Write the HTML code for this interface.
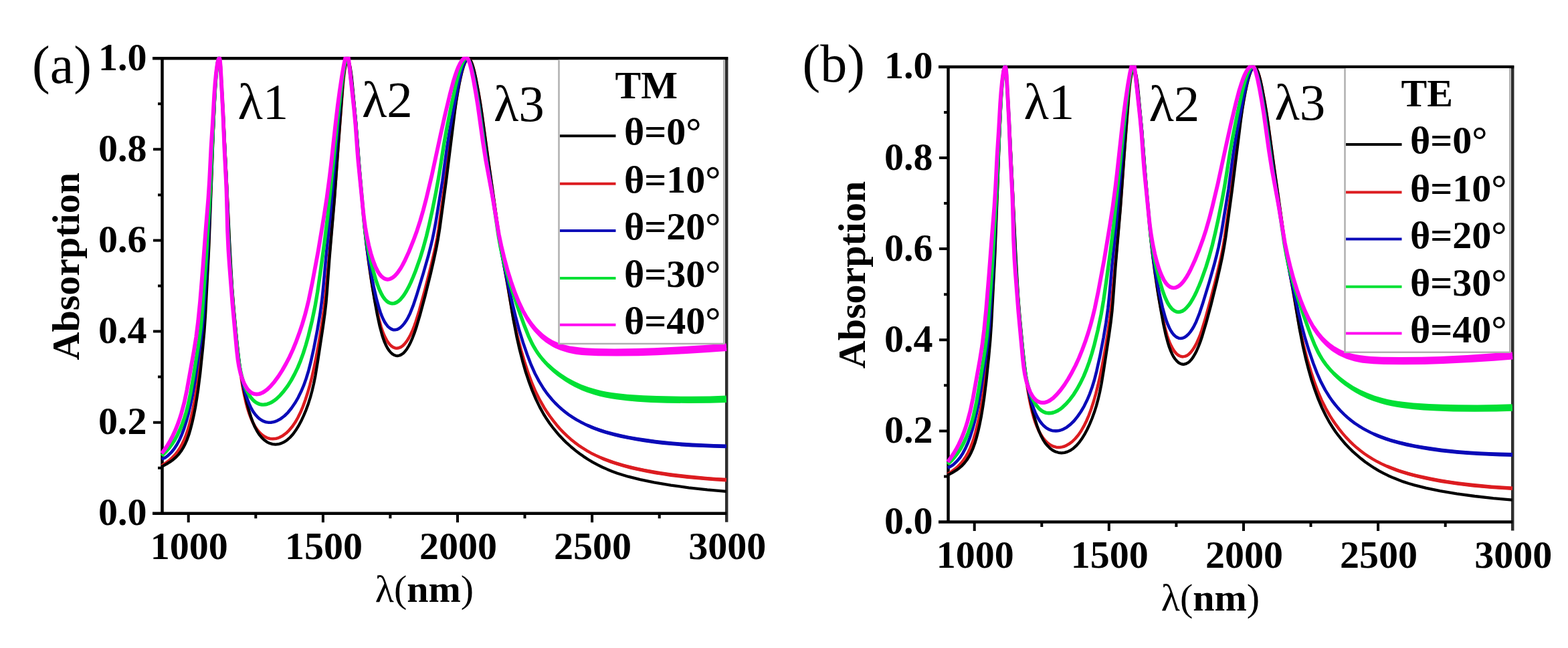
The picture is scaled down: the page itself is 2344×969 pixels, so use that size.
<!DOCTYPE html>
<html><head><meta charset="utf-8"><style>
html,body{margin:0;padding:0;background:#fff;}
svg{display:block}
.b{font-family:"Liberation Serif",serif;font-weight:bold;font-size:58px;fill:#000}
.r{font-family:"Liberation Serif",serif;font-size:77px;fill:#000}
.p{font-family:"Liberation Serif",serif;font-size:80px;fill:#000}
</style></head><body>
<svg width="2344" height="969" viewBox="0 0 2344 969">
<rect width="2344" height="969" fill="#fff"/>
<path d="M1086.2,85.2 V780.8" fill="none" stroke="#2e2e2e" stroke-width="4.5"/>
<path d="M228.0,87.2 H1088.2 M242.5,87.2 V767.8 M228.0,767.8 H1086.2" fill="none" stroke="#000" stroke-width="4.5"/>
<path d="M236.0,699.7 H242.5 M229.0,631.7 H242.5 M236.0,563.6 H242.5 M229.0,495.6 H242.5 M236.0,427.5 H242.5 M229.0,359.4 H242.5 M236.0,291.4 H242.5 M229.0,223.3 H242.5 M236.0,155.3 H242.5 M281.7,767.8 V781.3 M382.3,767.8 V775.3 M482.9,767.8 V781.3 M583.4,767.8 V775.3 M684.0,767.8 V781.3 M784.5,767.8 V775.3 M885.1,767.8 V781.3 M985.7,767.8 V775.3" stroke="#000" stroke-width="4"/>
<clipPath id="clip241"><rect x="239.5" y="84.7" width="848.7" height="685.1"/></clipPath>
<g clip-path="url(#clip241)">
<path d="M241.5,696.5 L247.4,692.7 L252.6,688.7 L257.5,684.4 L261.6,680.1 L265.3,675.4 L268.9,670.0 L272.1,664.3 L275.1,658.0 L277.9,651.0 L280.7,643.0 L283.3,633.9 L285.7,624.2 L288.2,613.0 L290.5,601.2 L292.7,588.4 L294.7,575.1 L297.8,550.8 L302.5,510.1 L304.4,489.7 L306.0,468.2 L310.5,393.8 L311.7,371.4 L313.6,323.9 L316.0,269.4 L318.5,201.5 L321.3,140.6 L322.6,120.1 L324.0,103.6 L325.3,92.7 L325.9,89.8 L326.6,87.9 L326.9,87.5 L327.4,87.7 L327.8,88.6 L328.3,91.1 L329.0,95.5 L330.1,109.0 L331.6,131.9 L334.0,174.9 L338.5,266.3 L342.7,361.2 L344.6,397.1 L346.7,429.5 L349.3,461.9 L353.7,508.7 L356.5,535.1 L359.1,555.9 L361.1,568.7 L363.2,581.0 L365.4,591.8 L367.6,601.6 L369.9,610.3 L372.3,617.9 L375.0,625.0 L377.8,631.4 L380.9,637.1 L384.2,642.2 L387.7,646.5 L391.3,649.9 L395.4,652.8 L399.5,654.8 L403.8,656.0 L407.8,656.3 L410.3,656.1 L412.8,655.7 L415.2,655.1 L418.0,654.0 L422.8,651.4 L427.7,647.8 L432.3,643.3 L436.8,638.0 L441.1,631.8 L445.3,624.5 L449.1,616.8 L452.8,608.1 L456.4,598.3 L459.8,587.8 L463.1,576.3 L466.3,563.7 L469.4,550.0 L472.5,534.8 L477.0,510.3 L481.0,485.6 L484.1,463.8 L486.6,441.4 L492.6,378.2 L499.7,298.0 L501.8,271.1 L505.5,219.2 L512.5,129.5 L513.9,115.6 L515.4,104.1 L516.9,96.2 L517.7,93.3 L518.4,91.4 L519.0,90.4 L519.7,90.0 L520.4,90.4 L521.0,91.3 L521.7,93.3 L523.3,101.1 L525.0,114.0 L529.8,160.3 L531.8,181.7 L536.2,239.5 L543.4,324.7 L545.0,342.2 L547.4,363.5 L550.6,388.3 L554.4,414.0 L557.8,435.2 L562.0,457.3 L566.0,475.4 L569.7,488.9 L571.6,494.6 L573.6,499.7 L575.9,504.7 L578.3,509.1 L580.5,512.5 L583.1,515.6 L585.3,517.6 L587.9,519.3 L590.7,520.4 L593.3,520.7 L596.3,520.2 L599.1,519.1 L602.0,517.1 L605.2,513.9 L608.3,509.9 L611.2,505.3 L614.0,500.0 L616.9,493.6 L619.3,487.6 L621.6,481.0 L626.6,464.8 L634.8,435.0 L643.1,402.6 L647.3,385.0 L650.7,369.9 L653.4,356.1 L655.6,342.8 L665.4,272.0 L671.6,223.3 L678.2,174.8 L681.3,154.0 L684.3,136.3 L686.4,125.0 L688.7,114.7 L690.8,106.0 L692.8,99.3 L694.8,94.1 L696.6,90.6 L697.5,89.3 L698.6,88.3 L699.4,87.8 L700.4,87.6 L701.3,87.9 L702.1,88.6 L703.8,91.0 L705.6,95.2 L707.3,100.4 L709.2,107.6 L711.1,116.4 L715.7,140.5 L718.3,156.3 L720.7,172.6 L730.0,240.0 L747.1,359.8 L750.7,381.5 L759.1,428.2 L765.1,463.2 L769.2,484.3 L773.7,503.3 L779.0,523.6 L784.8,543.3 L790.3,559.9 L795.4,573.5 L800.7,585.8 L806.8,597.9 L813.2,609.2 L817.5,615.9 L822.1,622.5 L826.9,628.9 L831.9,635.2 L837.1,641.2 L842.3,646.6 L847.7,651.9 L853.3,656.9 L859.1,661.6 L864.7,665.8 L870.5,669.7 L876.9,673.7 L883.4,677.4 L890.1,680.8 L896.9,683.9 L904.3,687.0 L912.3,690.0 L920.3,692.7 L929.0,695.3 L938.1,697.8 L947.8,700.2 L958.6,702.5 L981.6,706.9 L1004.4,710.3 L1029.2,713.2 L1057.6,715.7 L1086.0,717.6" fill="none" stroke="#dc1c20" stroke-width="4.5" stroke-linejoin="round"/>
<path d="M897.4,686.6 L901.1,688.4 L912.4,692.7 L920.0,695.3 L931.6,698.8 L943.3,701.9 L955.1,704.6 L966.9,707.0 L978.7,709.2 L990.6,711.1 L1002.5,712.9 L1026.4,715.7 L1054.4,718.3 L1070.4,719.4 L1085.9,720.4 L1086.2,714.8 L1070.7,713.9 L1054.8,712.7 L1027.0,710.1 L1011.2,708.3 L999.3,706.8 L987.5,705.0 L975.7,703.0 L964.0,700.9 L952.3,698.4 L940.7,695.7 L933.0,693.7 L925.4,691.6 L917.8,689.2 L910.4,686.6 L899.2,682.4Z" fill="#dc1c20"/>
<path d="M241.5,697.8 L248.6,694.1 L254.2,690.7 L259.0,687.2 L263.2,683.6 L266.9,679.6 L270.6,674.8 L273.8,669.7 L276.8,664.0 L279.6,657.6 L282.3,650.1 L284.7,641.9 L287.2,632.3 L289.6,621.5 L292.0,609.3 L294.2,596.0 L296.2,582.6 L299.3,557.8 L303.1,521.0 L305.4,495.6 L307.1,470.7 L312.3,369.8 L318.9,195.9 L321.2,144.0 L322.5,121.0 L323.8,103.6 L325.2,92.1 L325.8,89.2 L326.3,87.8 L326.8,87.8 L327.1,88.2 L327.7,90.1 L328.4,94.0 L329.0,99.5 L330.4,115.9 L332.2,142.9 L334.2,178.8 L338.5,263.7 L343.0,359.6 L345.5,405.0 L347.2,432.5 L349.7,462.9 L354.1,509.2 L356.9,534.5 L359.3,553.4 L361.3,565.7 L363.7,578.5 L366.4,591.2 L369.4,603.8 L372.3,614.4 L375.1,623.5 L378.0,631.5 L380.9,638.3 L384.2,644.6 L387.4,649.6 L390.9,653.9 L394.8,657.8 L398.9,660.8 L402.9,662.8 L407.3,664.1 L411.8,664.6 L416.3,664.2 L420.6,662.9 L425.1,660.8 L429.6,657.7 L433.7,654.0 L438.0,649.2 L442.1,643.6 L446.1,637.2 L450.1,629.8 L453.9,621.6 L457.6,612.8 L461.0,603.4 L464.0,593.9 L466.6,584.2 L469.1,573.5 L471.4,562.2 L474.9,541.0 L482.8,489.1 L485.5,469.7 L487.5,452.3 L488.8,436.9 L492.6,385.0 L500.0,297.8 L504.9,228.5 L512.2,129.3 L513.4,116.3 L514.8,105.9 L516.2,98.4 L517.0,95.5 L517.7,93.5 L518.7,92.0 L519.6,91.6 L520.5,91.9 L521.0,92.4 L522.0,94.4 L522.9,97.4 L523.8,101.8 L525.6,114.2 L527.2,130.2 L532.3,184.4 L537.1,245.7 L543.6,324.5 L545.5,345.4 L548.2,368.7 L551.9,397.0 L555.9,424.2 L559.9,448.3 L564.1,471.4 L567.7,488.0 L571.2,501.0 L572.9,506.3 L574.8,511.4 L577.1,516.5 L579.2,520.5 L581.4,523.8 L584.0,527.0 L586.6,529.4 L589.3,531.0 L591.7,531.8 L594.3,532.1 L597.3,531.5 L600.0,530.2 L602.9,528.2 L605.7,525.3 L608.4,521.7 L611.2,517.0 L613.9,511.7 L616.7,505.3 L619.4,498.3 L622.1,490.3 L628.2,469.8 L635.4,442.9 L643.7,409.4 L648.3,389.4 L652.0,372.3 L654.8,357.5 L657.2,342.7 L666.7,272.8 L680.1,165.1 L682.1,150.8 L684.4,137.0 L686.5,125.6 L688.6,115.4 L690.7,106.6 L692.7,99.9 L694.5,94.7 L696.5,90.6 L698.3,88.3 L699.2,87.7 L700.2,87.5 L701.1,87.8 L701.9,88.4 L703.7,90.9 L705.5,95.0 L707.2,100.2 L709.1,107.4 L711.1,116.2 L715.6,140.3 L718.2,155.6 L720.6,171.9 L730.3,242.7 L747.0,359.6 L750.9,382.7 L759.8,431.4 L767.3,476.8 L772.6,504.3 L776.7,522.4 L781.0,539.3 L785.5,555.2 L790.4,569.9 L795.6,584.0 L801.1,596.9 L806.8,608.6 L812.8,619.5 L817.1,626.3 L821.6,633.0 L826.1,639.0 L831.1,645.2 L836.3,651.3 L841.8,657.1 L847.5,662.7 L853.5,668.0 L859.6,673.1 L865.9,678.0 L872.4,682.6 L879.1,687.0 L886.0,691.1 L893.0,694.9 L900.2,698.5 L908.0,701.9 L915.4,704.9 L922.9,707.7 L931.0,710.3 L939.2,712.7 L957.1,717.2 L977.7,721.4 L1002.8,725.6 L1029.6,729.3 L1057.4,732.4 L1085.8,734.9" fill="none" stroke="#000000" stroke-width="4.3" stroke-linejoin="round"/>
<path d="M241.6,686.7 L243.9,685.8 L246.2,684.7 L248.8,683.1 L251.1,681.2 L255.8,676.7 L260.3,671.3 L264.4,665.0 L268.4,657.5 L272.0,649.3 L275.3,640.4 L278.6,629.9 L281.7,618.4 L284.7,605.7 L287.6,592.1 L291.8,567.5 L299.4,516.0 L302.1,494.7 L304.1,473.2 L310.1,380.4 L315.3,273.0 L317.7,216.6 L320.0,165.6 L322.0,129.7 L323.3,111.7 L324.8,97.8 L326.1,89.4 L326.7,87.5 L327.4,86.6 L328.0,87.5 L328.5,90.0 L329.6,100.9 L333.0,158.3 L338.8,277.2 L341.7,353.1 L344.1,395.5 L346.5,429.9 L348.6,456.9 L351.4,486.2 L355.4,525.5 L358.0,545.3 L360.9,562.6 L364.5,579.2 L366.5,586.5 L368.5,593.2 L370.5,598.9 L372.7,604.4 L374.8,609.0 L377.2,613.4 L379.6,617.2 L382.4,620.8 L385.1,623.8 L388.1,626.4 L390.6,628.1 L392.8,629.4 L395.6,630.5 L398.0,631.2 L400.5,631.6 L403.5,631.7 L406.0,631.6 L408.9,631.0 L411.7,630.2 L414.5,629.1 L419.7,626.2 L425.2,622.0 L430.5,616.8 L435.8,610.2 L440.9,602.8 L445.7,594.6 L450.1,585.6 L454.0,576.4 L457.7,566.0 L461.1,555.0 L464.3,542.4 L469.3,519.9 L474.6,492.4 L478.4,469.7 L481.3,448.4 L483.0,432.5 L487.2,386.2 L493.9,320.5 L505.2,188.5 L509.9,139.2 L512.1,119.4 L514.1,105.0 L516.0,95.2 L517.0,91.9 L518.0,89.6 L518.9,88.7 L519.2,88.8 L519.8,89.5 L520.7,91.7 L521.6,95.1 L523.5,106.4 L525.8,124.8 L529.7,159.6 L531.9,182.0 L536.4,241.3 L545.0,340.4 L546.8,356.3 L548.9,372.7 L551.4,389.5 L554.3,406.3 L558.5,427.9 L562.8,446.9 L566.8,461.3 L568.8,467.5 L570.8,472.6 L573.0,477.6 L575.1,481.6 L577.3,484.9 L579.8,488.1 L582.4,490.4 L584.9,492.0 L587.7,493.1 L590.2,493.3 L593.2,492.8 L595.9,491.6 L598.8,489.6 L601.7,486.9 L604.6,483.4 L607.4,479.3 L610.1,474.6 L613.0,468.7 L617.6,457.2 L622.5,442.6 L632.7,409.2 L640.3,382.3 L643.7,369.2 L646.5,357.5 L648.9,345.8 L651.3,333.0 L661.4,270.3 L668.2,220.2 L671.2,200.9 L675.1,178.8 L684.5,130.2 L688.6,111.6 L690.5,104.4 L692.3,98.7 L694.2,94.1 L696.1,90.6 L697.7,88.9 L698.6,88.4 L699.4,88.3 L700.2,88.7 L700.9,89.4 L702.2,91.4 L703.6,94.6 L705.1,99.4 L708.3,112.0 L711.8,130.1 L716.8,160.2 L726.7,230.5 L737.2,296.2 L744.3,345.7 L746.6,360.5 L749.6,377.7 L753.5,397.3 L758.8,421.8 L765.2,450.6 L770.6,472.9 L775.8,492.3 L781.8,511.9 L788.1,530.3 L793.8,545.2 L799.7,558.5 L806.0,570.4 L812.6,581.1 L816.6,586.8 L820.9,592.3 L825.4,597.7 L829.8,602.5 L834.8,607.4 L839.6,611.8 L844.6,615.9 L850.2,620.1 L856.0,624.0 L862.0,627.7 L868.1,631.1 L874.4,634.3 L880.7,637.2 L887.7,640.1 L894.7,642.7 L902.3,645.2 L910.4,647.6 L919.1,649.9 L937.6,654.0 L959.8,657.9 L983.6,661.1 L1005.4,663.4 L1029.4,665.1 L1056.8,666.5 L1085.8,667.3" fill="none" stroke="#0a0ab8" stroke-width="4.6" stroke-linejoin="round"/>
<path d="M877.5,638.3 L881.1,640.1 L884.9,641.7 L896.2,646.0 L903.9,648.5 L915.5,651.8 L927.3,654.7 L939.1,657.1 L950.9,659.3 L962.8,661.3 L978.7,663.5 L990.7,664.9 L1002.7,666.1 L1018.7,667.4 L1034.7,668.4 L1050.7,669.1 L1066.7,669.7 L1085.8,670.2 L1085.9,664.4 L1066.9,663.9 L1051.0,663.3 L1035.0,662.6 L1019.1,661.6 L1003.2,660.3 L991.3,659.1 L979.5,657.7 L967.6,656.1 L951.9,653.7 L940.1,651.7 L928.5,649.3 L916.9,646.6 L905.4,643.5 L897.9,641.1 L890.4,638.4 L879.4,634.1Z" fill="#0a0ab8"/>
<path d="M241.7,681.6 L247.1,676.4 L252.1,670.8 L256.9,664.4 L261.3,657.7 L265.4,650.2 L269.0,642.5 L272.4,634.2 L275.7,624.8 L278.2,616.7 L280.5,608.0 L282.6,598.7 L284.7,588.5 L288.7,565.8 L297.6,509.6 L300.2,489.7 L302.3,467.3 L308.5,381.0 L314.3,282.2 L317.7,206.8 L320.5,150.8 L321.9,127.4 L323.4,109.4 L324.9,96.0 L325.6,91.6 L326.4,88.1 L327.2,86.3 L327.7,86.2 L328.2,87.6 L328.7,90.6 L329.7,102.0 L333.3,166.4 L335.8,223.9 L338.5,276.8 L340.8,345.8 L342.5,379.2 L345.1,416.6 L348.0,453.0 L350.1,476.4 L354.7,521.7 L356.6,538.1 L358.7,550.9 L361.5,563.1 L364.7,573.7 L366.4,578.4 L368.4,583.1 L370.4,587.2 L372.7,591.1 L375.0,594.4 L377.3,597.1 L379.8,599.6 L382.2,601.5 L384.3,602.8 L386.6,603.9 L389.0,604.6 L391.5,605.0 L394.0,605.1 L396.9,604.8 L399.4,604.3 L402.2,603.3 L404.9,602.1 L407.5,600.6 L410.4,598.7 L413.1,596.6 L418.9,591.1 L424.4,584.7 L430.1,577.1 L435.4,568.6 L440.4,559.4 L445.0,549.9 L449.2,539.7 L453.3,528.4 L457.2,516.0 L461.0,502.5 L466.4,480.1 L471.1,457.6 L474.7,436.4 L479.0,406.7 L485.4,359.6 L489.6,325.4 L498.4,241.4 L504.5,179.7 L509.7,134.9 L512.5,113.6 L514.9,98.8 L516.0,93.5 L517.2,89.1 L518.2,86.3 L518.7,85.6 L519.0,85.5 L519.7,87.2 L520.6,90.6 L522.4,101.9 L525.1,123.2 L529.5,162.5 L532.1,190.4 L535.9,240.7 L540.9,293.0 L543.8,326.9 L545.5,342.3 L547.7,357.2 L550.6,373.4 L554.3,390.5 L558.5,407.0 L562.6,420.9 L566.3,431.2 L570.1,439.4 L572.1,442.9 L574.0,445.7 L575.9,448.1 L578.0,450.2 L580.8,452.2 L583.5,453.4 L586.4,453.9 L589.3,453.6 L592.5,452.4 L595.5,450.5 L598.4,447.9 L601.7,444.1 L604.6,440.1 L607.7,435.0 L610.8,429.3 L614.0,422.6 L617.6,414.3 L621.1,405.5 L627.8,386.7 L632.8,370.4 L637.4,353.5 L641.6,336.0 L646.3,314.5 L651.5,288.5 L655.3,267.8 L657.9,252.1 L663.4,217.0 L667.4,194.3 L674.3,159.5 L681.5,126.3 L683.8,117.0 L686.1,108.8 L688.2,102.2 L690.3,96.6 L692.5,92.0 L694.4,89.1 L696.2,87.5 L697.1,87.1 L698.1,87.0 L699.4,87.8 L700.9,90.3 L702.3,93.5 L703.8,98.3 L707.0,111.4 L710.7,130.6 L713.5,146.8 L716.0,162.6 L726.1,233.9 L728.6,249.7 L734.4,282.2 L737.6,301.4 L745.1,352.4 L748.2,369.6 L752.4,388.2 L758.2,410.0 L765.3,433.4 L774.3,460.4 L784.0,487.3 L789.9,502.1 L795.2,513.4 L798.1,518.7 L800.9,523.4 L803.9,528.0 L807.1,532.4 L810.9,537.1 L815.2,542.0 L819.7,546.6 L824.8,551.3 L830.1,555.8 L835.6,560.1 L841.3,564.1 L847.2,567.9 L853.2,571.4 L858.9,574.5 L865.2,577.5 L871.7,580.2 L878.2,582.7 L884.9,584.9 L891.6,586.8 L898.9,588.7 L913.2,591.5 L929.5,593.7 L949.0,595.5 L971.4,596.8 L997.4,597.6 L1027.9,597.9 L1058.9,597.6 L1085.8,596.8" fill="none" stroke="#00e034" stroke-width="5.4" stroke-linejoin="round"/>
<path d="M816.4,547.1 L819.2,550.0 L825.1,555.5 L828.2,558.2 L834.5,563.3 L844.5,570.3 L851.4,574.6 L855.0,576.6 L858.6,578.5 L866.0,582.1 L869.7,583.7 L877.4,586.7 L889.0,590.5 L897.0,592.7 L904.9,594.5 L912.9,596.0 L921.0,597.3 L937.0,599.3 L953.1,600.8 L973.2,601.9 L997.3,602.7 L1029.4,603.0 L1061.5,602.8 L1086.1,602.1 L1085.6,591.6 L1061.3,592.4 L1033.3,592.7 L1005.4,592.6 L981.6,592.1 L961.7,591.3 L938.0,589.7 L922.2,588.1 L914.4,587.1 L906.6,585.8 L899.0,584.2 L891.3,582.3 L880.1,579.0 L869.1,574.9 L858.4,570.1 L848.1,564.5 L838.3,558.1 L829.0,551.0 L820.2,543.2Z" fill="#00e034"/>
<path d="M241.7,678.0 L246.2,672.0 L250.4,665.8 L254.5,658.9 L258.2,651.8 L261.8,644.1 L265.2,635.7 L268.4,626.8 L271.2,617.8 L275.5,601.8 L279.5,582.8 L289.8,525.3 L293.2,504.1 L296.2,480.2 L299.1,450.9 L303.4,398.6 L307.8,340.2 L311.4,296.3 L313.1,269.4 L315.5,221.0 L318.0,182.0 L320.2,142.1 L321.5,124.6 L323.0,109.2 L324.6,97.3 L325.4,92.9 L326.3,89.5 L327.0,87.6 L327.8,86.7 L328.3,87.1 L328.8,89.6 L329.8,100.1 L333.3,168.5 L335.5,223.0 L338.3,278.4 L339.0,299.9 L340.1,344.9 L341.4,373.3 L342.8,394.3 L347.4,453.6 L354.0,524.7 L355.5,537.7 L357.2,548.0 L359.4,557.8 L362.1,566.5 L365.2,574.0 L368.5,579.7 L370.3,582.2 L372.4,584.4 L374.3,586.1 L376.4,587.6 L378.8,588.6 L380.8,589.2 L382.8,589.5 L385.3,589.4 L387.3,589.1 L389.7,588.4 L392.0,587.4 L394.7,585.9 L399.5,582.4 L404.8,577.2 L410.3,570.8 L416.2,562.8 L421.8,554.0 L427.5,544.0 L432.8,533.8 L437.8,522.9 L442.7,510.8 L447.4,498.1 L451.8,484.8 L455.8,471.4 L458.7,460.3 L461.5,448.6 L467.0,422.1 L475.6,375.9 L484.1,324.6 L488.6,295.4 L492.5,266.2 L494.9,245.8 L501.5,185.7 L504.8,157.9 L507.8,135.6 L511.1,113.8 L514.2,96.1 L517.0,83.4 L518.1,79.6 L519.2,76.6 L520.2,81.2 L521.3,89.6 L529.3,163.7 L531.5,187.6 L534.2,225.5 L535.5,241.5 L542.9,315.6 L544.4,328.0 L546.0,339.4 L548.5,353.7 L551.3,366.9 L554.4,379.0 L557.7,389.6 L561.1,398.4 L564.6,405.6 L566.5,408.6 L568.2,411.0 L570.2,413.3 L572.1,414.9 L574.6,416.6 L576.9,417.4 L579.3,417.8 L582.3,417.4 L585.0,416.3 L587.5,414.8 L590.2,412.5 L593.2,409.3 L595.9,405.7 L599.0,401.1 L601.7,396.4 L604.7,390.7 L611.2,376.6 L617.9,359.9 L623.2,345.4 L628.0,330.6 L632.6,314.7 L637.5,295.9 L645.6,261.8 L658.8,200.7 L665.1,172.4 L672.4,141.8 L677.5,122.4 L680.2,113.8 L682.8,106.2 L685.4,99.7 L687.8,94.8 L690.5,90.5 L692.8,87.8 L693.9,86.8 L695.2,86.0 L696.2,85.7 L697.3,85.7 L698.5,86.6 L699.6,88.3 L700.9,91.1 L702.2,94.9 L704.9,105.5 L708.0,120.7 L711.2,138.9 L714.1,156.7 L721.9,212.7 L726.2,239.8 L735.9,291.9 L745.8,350.6 L749.4,367.7 L753.6,385.2 L758.5,403.5 L764.0,421.2 L769.8,437.7 L775.7,452.1 L781.5,464.3 L787.6,475.2 L790.9,480.2 L794.3,485.2 L797.7,489.5 L801.3,493.7 L807.9,500.5 L811.7,503.8 L815.2,506.6 L819.3,509.5 L823.1,511.9 L831.1,516.1 L835.2,517.8 L839.9,519.5 L849.0,522.1 L859.3,524.1 L870.7,525.4 L886.7,526.4 L907.2,526.9 L934.7,526.9 L961.2,526.4 L990.2,525.3 L1025.1,523.5 L1057.6,521.4 L1086.0,519.2" fill="none" stroke="#ff08f0" stroke-width="5.8" stroke-linejoin="round"/>
<path d="M785.7,477.6 L787.8,481.1 L792.4,487.9 L797.4,494.4 L800.1,497.6 L805.8,503.6 L808.8,506.4 L815.3,511.7 L818.7,514.1 L825.9,518.5 L829.7,520.4 L837.4,523.7 L841.3,525.1 L849.4,527.5 L857.5,529.3 L861.6,530.0 L869.7,530.9 L877.9,531.5 L894.1,532.2 L922.2,532.5 L954.3,532.2 L982.4,531.3 L1022.5,529.3 L1058.5,527.1 L1086.5,524.9 L1085.5,513.5 L1053.7,515.9 L1017.8,518.2 L978.0,520.2 L950.1,521.1 L918.2,521.4 L890.4,521.0 L874.7,520.2 L866.9,519.5 L859.2,518.6 L851.6,517.4 L847.9,516.6 L840.5,514.7 L836.9,513.5 L829.9,510.6 L826.5,508.9 L819.9,505.1 L813.7,500.6 L810.8,498.1 L805.2,492.8 L802.5,490.0 L797.5,484.0 L795.1,480.9 L790.6,474.5Z" fill="#ff08f0"/>
</g>
<path d="M835.5,89.4 V514.0 H1082.3 V89.4" fill="white" stroke="#b0b0b0" stroke-width="2.5"/>
<text x="919.5" y="146.5" class="b">TM</text>
<line x1="837.0" y1="203.3" x2="920.5" y2="203.3" stroke="#000000" stroke-width="4"/>
<text x="933.0" y="216.3" class="b">θ=0°</text>
<line x1="837.0" y1="274.8" x2="920.5" y2="274.8" stroke="#dc1c20" stroke-width="4"/>
<text x="933.0" y="287.8" class="b">θ=10°</text>
<line x1="837.0" y1="344.9" x2="920.5" y2="344.9" stroke="#0a0ab8" stroke-width="4"/>
<text x="933.0" y="357.9" class="b">θ=20°</text>
<line x1="837.0" y1="416.1" x2="920.5" y2="416.1" stroke="#00e034" stroke-width="4"/>
<text x="933.0" y="429.1" class="b">θ=30°</text>
<line x1="837.0" y1="485.8" x2="920.5" y2="485.8" stroke="#ff08f0" stroke-width="4"/>
<text x="933.0" y="498.8" class="b">θ=40°</text>
<text x="219.5" y="785.3" text-anchor="end" class="b">0.0</text>
<text x="219.5" y="649.2" text-anchor="end" class="b">0.2</text>
<text x="219.5" y="513.1" text-anchor="end" class="b">0.4</text>
<text x="219.5" y="376.9" text-anchor="end" class="b">0.6</text>
<text x="219.5" y="240.8" text-anchor="end" class="b">0.8</text>
<text x="219.5" y="104.7" text-anchor="end" class="b">1.0</text>
<text x="282.7" y="836.3" text-anchor="middle" class="b">1000</text>
<text x="483.9" y="836.3" text-anchor="middle" class="b">1500</text>
<text x="685.0" y="836.3" text-anchor="middle" class="b">2000</text>
<text x="886.1" y="836.3" text-anchor="middle" class="b">2500</text>
<text x="1087.2" y="836.3" text-anchor="middle" class="b">3000</text>
<text transform="translate(118.0,398.3) rotate(-90)" text-anchor="middle" class="b">Absorption</text>
<text x="634.5" y="900.1" text-anchor="middle" class="b"><tspan font-weight="normal">λ(</tspan>nm<tspan font-weight="normal">)</tspan></text>
<text x="355.5" y="178.0" class="r">λ1</text>
<text x="541.0" y="175.0" class="r">λ2</text>
<text x="738.0" y="181.0" class="r">λ3</text>
<path d="M2261.2,97.9 V793.5" fill="none" stroke="#2e2e2e" stroke-width="4.5"/>
<path d="M1403.0,99.9 H2263.2 M1417.5,99.9 V780.5 M1403.0,780.5 H2261.2" fill="none" stroke="#000" stroke-width="4.5"/>
<path d="M1411.0,712.4 H1417.5 M1404.0,644.4 H1417.5 M1411.0,576.3 H1417.5 M1404.0,508.3 H1417.5 M1411.0,440.2 H1417.5 M1404.0,372.1 H1417.5 M1411.0,304.1 H1417.5 M1404.0,236.0 H1417.5 M1411.0,168.0 H1417.5 M1456.7,780.5 V794.0 M1557.3,780.5 V788.0 M1657.8,780.5 V794.0 M1758.4,780.5 V788.0 M1859.0,780.5 V794.0 M1959.5,780.5 V788.0 M2060.1,780.5 V794.0 M2160.7,780.5 V788.0" stroke="#000" stroke-width="4"/>
<clipPath id="clip1416"><rect x="1414.5" y="97.4" width="848.7" height="685.1"/></clipPath>
<g clip-path="url(#clip1416)">
<path d="M1416.5,709.2 L1422.4,705.4 L1427.6,701.4 L1432.5,697.1 L1436.6,692.8 L1440.3,688.1 L1443.9,682.7 L1447.1,677.0 L1450.1,670.7 L1452.9,663.7 L1455.7,655.7 L1458.3,646.6 L1460.7,636.9 L1463.2,625.7 L1465.5,613.9 L1467.7,601.1 L1469.7,587.8 L1472.8,563.5 L1477.5,522.8 L1479.4,502.4 L1481.0,480.9 L1485.5,406.5 L1486.7,384.1 L1488.6,336.6 L1491.0,282.1 L1493.5,214.2 L1496.3,153.3 L1497.6,132.8 L1499.0,116.3 L1500.3,105.4 L1500.9,102.5 L1501.6,100.6 L1501.9,100.2 L1502.4,100.4 L1502.8,101.3 L1503.3,103.8 L1504.0,108.2 L1505.1,121.7 L1506.6,144.6 L1509.0,187.6 L1513.5,279.0 L1517.7,373.9 L1519.6,409.8 L1521.7,442.2 L1524.3,474.6 L1528.7,521.4 L1531.5,547.8 L1534.1,568.6 L1536.1,581.4 L1538.2,593.7 L1540.4,604.5 L1542.6,614.3 L1544.9,623.0 L1547.3,630.6 L1550.0,637.7 L1552.8,644.1 L1555.9,649.8 L1559.2,654.9 L1562.7,659.2 L1566.3,662.6 L1570.4,665.5 L1574.5,667.5 L1578.8,668.7 L1582.8,669.0 L1585.3,668.8 L1587.8,668.4 L1590.2,667.8 L1593.0,666.7 L1597.8,664.1 L1602.7,660.5 L1607.3,656.0 L1611.8,650.7 L1616.1,644.5 L1620.3,637.2 L1624.1,629.5 L1627.8,620.8 L1631.4,611.0 L1634.8,600.5 L1638.1,589.0 L1641.3,576.4 L1644.4,562.7 L1647.5,547.5 L1652.0,523.0 L1656.0,498.3 L1659.1,476.5 L1661.6,454.1 L1667.6,390.9 L1674.7,310.7 L1676.8,283.8 L1680.5,231.9 L1687.5,142.2 L1688.9,128.3 L1690.4,116.8 L1691.9,108.9 L1692.7,106.0 L1693.4,104.1 L1694.0,103.1 L1694.7,102.7 L1695.4,103.1 L1696.0,104.0 L1696.7,106.0 L1698.3,113.8 L1700.0,126.7 L1704.8,173.0 L1706.8,194.4 L1711.2,252.2 L1718.4,337.4 L1720.0,354.9 L1722.4,376.2 L1725.6,401.0 L1729.4,426.7 L1732.8,447.9 L1737.0,470.0 L1741.0,488.1 L1744.7,501.6 L1746.6,507.3 L1748.6,512.4 L1750.9,517.4 L1753.3,521.8 L1755.5,525.2 L1758.1,528.3 L1760.3,530.3 L1762.9,532.0 L1765.7,533.1 L1768.3,533.4 L1771.3,532.9 L1774.1,531.8 L1777.0,529.8 L1780.2,526.6 L1783.3,522.6 L1786.2,518.0 L1789.0,512.7 L1791.9,506.3 L1794.3,500.3 L1796.6,493.7 L1801.6,477.5 L1809.8,447.7 L1818.1,415.3 L1822.3,397.7 L1825.7,382.6 L1828.4,368.8 L1830.6,355.5 L1840.4,284.7 L1846.6,236.0 L1853.2,187.5 L1856.3,166.7 L1859.3,149.0 L1861.4,137.7 L1863.7,127.4 L1865.8,118.7 L1867.8,112.0 L1869.8,106.8 L1871.6,103.3 L1872.5,102.0 L1873.6,101.0 L1874.4,100.5 L1875.4,100.3 L1876.3,100.6 L1877.1,101.3 L1878.8,103.7 L1880.6,107.9 L1882.3,113.1 L1884.2,120.3 L1886.1,129.1 L1890.7,153.2 L1893.3,169.0 L1895.7,185.3 L1905.0,252.7 L1922.1,372.5 L1925.7,394.2 L1934.1,440.9 L1940.1,475.9 L1944.2,497.0 L1948.7,516.0 L1954.0,536.3 L1959.8,556.0 L1965.3,572.6 L1970.4,586.2 L1975.7,598.5 L1981.8,610.6 L1988.2,621.9 L1992.5,628.6 L1997.1,635.2 L2001.9,641.6 L2006.9,647.9 L2012.1,653.9 L2017.3,659.3 L2022.7,664.6 L2028.3,669.6 L2034.1,674.3 L2039.7,678.5 L2045.5,682.4 L2051.9,686.4 L2058.4,690.1 L2065.1,693.5 L2071.9,696.6 L2079.3,699.7 L2087.3,702.7 L2095.3,705.4 L2104.0,708.0 L2113.1,710.5 L2122.8,712.9 L2133.6,715.2 L2156.6,719.6 L2179.4,723.0 L2204.2,725.9 L2232.6,728.4 L2261.0,730.3" fill="none" stroke="#dc1c20" stroke-width="4.5" stroke-linejoin="round"/>
<path d="M2072.4,699.3 L2076.1,701.1 L2087.4,705.4 L2095.0,708.0 L2106.6,711.5 L2118.3,714.6 L2130.1,717.3 L2141.9,719.7 L2153.7,721.9 L2165.6,723.8 L2177.5,725.6 L2201.4,728.4 L2229.4,731.0 L2245.4,732.1 L2260.9,733.1 L2261.2,727.5 L2245.7,726.6 L2229.8,725.4 L2202.0,722.8 L2186.2,721.0 L2174.3,719.5 L2162.5,717.7 L2150.7,715.7 L2139.0,713.6 L2127.3,711.1 L2115.7,708.4 L2108.0,706.4 L2100.4,704.3 L2092.8,701.9 L2085.4,699.3 L2074.2,695.1Z" fill="#dc1c20"/>
<path d="M1416.5,710.5 L1423.6,706.8 L1429.2,703.4 L1434.0,699.9 L1438.2,696.3 L1441.9,692.3 L1445.6,687.5 L1448.8,682.4 L1451.8,676.7 L1454.6,670.3 L1457.3,662.8 L1459.7,654.6 L1462.2,645.0 L1464.6,634.2 L1467.0,622.0 L1469.2,608.7 L1471.2,595.3 L1474.3,570.5 L1478.1,533.7 L1480.4,508.3 L1482.1,483.4 L1487.3,382.5 L1493.9,208.6 L1496.2,156.7 L1497.5,133.7 L1498.8,116.3 L1500.2,104.8 L1500.8,101.9 L1501.3,100.5 L1501.8,100.5 L1502.1,100.9 L1502.7,102.8 L1503.4,106.7 L1504.0,112.2 L1505.4,128.6 L1507.2,155.6 L1509.2,191.5 L1513.5,276.4 L1518.0,372.3 L1520.5,417.7 L1522.2,445.2 L1524.7,475.6 L1529.1,521.9 L1531.9,547.2 L1534.3,566.1 L1536.3,578.4 L1538.7,591.2 L1541.4,603.9 L1544.4,616.5 L1547.3,627.1 L1550.1,636.2 L1553.0,644.2 L1555.9,651.0 L1559.2,657.3 L1562.4,662.3 L1565.9,666.6 L1569.8,670.5 L1573.9,673.5 L1577.9,675.5 L1582.3,676.8 L1586.8,677.3 L1591.3,676.9 L1595.6,675.6 L1600.1,673.5 L1604.6,670.4 L1608.7,666.7 L1613.0,661.9 L1617.1,656.3 L1621.1,649.9 L1625.1,642.5 L1628.9,634.3 L1632.6,625.5 L1636.0,616.1 L1639.0,606.6 L1641.6,596.9 L1644.1,586.2 L1646.4,574.9 L1649.9,553.7 L1657.8,501.8 L1660.5,482.4 L1662.5,465.0 L1663.8,449.6 L1667.6,397.7 L1675.0,310.5 L1679.9,241.2 L1687.2,142.0 L1688.4,129.0 L1689.8,118.6 L1691.2,111.1 L1692.0,108.2 L1692.7,106.2 L1693.7,104.7 L1694.6,104.3 L1695.5,104.6 L1696.0,105.1 L1697.0,107.1 L1697.9,110.1 L1698.8,114.5 L1700.6,126.9 L1702.2,142.9 L1707.3,197.1 L1712.1,258.4 L1718.6,337.2 L1720.5,358.1 L1723.2,381.4 L1726.9,409.7 L1730.9,436.9 L1734.9,461.0 L1739.1,484.1 L1742.7,500.7 L1746.2,513.7 L1747.9,519.0 L1749.8,524.1 L1752.1,529.2 L1754.2,533.2 L1756.4,536.5 L1759.0,539.7 L1761.6,542.1 L1764.3,543.7 L1766.7,544.5 L1769.3,544.8 L1772.3,544.2 L1775.0,542.9 L1777.9,540.9 L1780.7,538.0 L1783.4,534.4 L1786.2,529.7 L1788.9,524.4 L1791.7,518.0 L1794.4,511.0 L1797.1,503.0 L1803.2,482.5 L1810.4,455.6 L1818.7,422.1 L1823.3,402.1 L1827.0,385.0 L1829.8,370.2 L1832.2,355.4 L1841.7,285.5 L1855.1,177.8 L1857.1,163.5 L1859.4,149.7 L1861.5,138.3 L1863.6,128.1 L1865.7,119.3 L1867.7,112.6 L1869.5,107.4 L1871.5,103.3 L1873.3,101.0 L1874.2,100.4 L1875.2,100.2 L1876.1,100.5 L1876.9,101.1 L1878.7,103.6 L1880.5,107.7 L1882.2,112.9 L1884.1,120.1 L1886.1,128.9 L1890.6,153.0 L1893.2,168.3 L1895.6,184.6 L1905.3,255.4 L1922.0,372.3 L1925.9,395.4 L1934.8,444.1 L1942.3,489.5 L1947.6,517.0 L1951.7,535.1 L1956.0,552.0 L1960.5,567.9 L1965.4,582.6 L1970.6,596.7 L1976.1,609.6 L1981.8,621.3 L1987.8,632.2 L1992.1,639.0 L1996.6,645.7 L2001.1,651.7 L2006.1,657.9 L2011.3,664.0 L2016.8,669.8 L2022.5,675.4 L2028.5,680.7 L2034.6,685.8 L2040.9,690.7 L2047.4,695.3 L2054.1,699.7 L2061.0,703.8 L2068.0,707.6 L2075.2,711.2 L2083.0,714.6 L2090.4,717.6 L2097.9,720.4 L2106.0,723.0 L2114.2,725.4 L2132.1,729.9 L2152.7,734.1 L2177.8,738.3 L2204.6,742.0 L2232.4,745.1 L2260.8,747.6" fill="none" stroke="#000000" stroke-width="4.3" stroke-linejoin="round"/>
<path d="M1416.6,699.4 L1418.9,698.5 L1421.2,697.4 L1423.8,695.8 L1426.1,693.9 L1430.8,689.4 L1435.3,684.0 L1439.4,677.7 L1443.4,670.2 L1447.0,662.0 L1450.3,653.1 L1453.6,642.6 L1456.7,631.1 L1459.7,618.4 L1462.6,604.8 L1466.8,580.2 L1474.4,528.7 L1477.1,507.4 L1479.1,485.9 L1485.1,393.1 L1490.3,285.7 L1492.7,229.3 L1495.0,178.3 L1497.0,142.4 L1498.3,124.4 L1499.8,110.5 L1501.1,102.1 L1501.7,100.2 L1502.4,99.3 L1503.0,100.2 L1503.5,102.7 L1504.6,113.6 L1508.0,171.0 L1513.8,289.9 L1516.7,365.8 L1519.1,408.2 L1521.5,442.6 L1523.6,469.6 L1526.4,498.9 L1530.4,538.2 L1533.0,558.0 L1535.9,575.3 L1539.5,591.9 L1541.5,599.2 L1543.5,605.9 L1545.5,611.6 L1547.7,617.1 L1549.8,621.7 L1552.2,626.1 L1554.6,629.9 L1557.4,633.5 L1560.1,636.5 L1563.1,639.1 L1565.6,640.8 L1567.8,642.1 L1570.6,643.2 L1573.0,643.9 L1575.5,644.3 L1578.5,644.4 L1581.0,644.3 L1583.9,643.7 L1586.7,642.9 L1589.5,641.8 L1594.7,638.9 L1600.2,634.7 L1605.5,629.5 L1610.8,622.9 L1615.9,615.5 L1620.7,607.3 L1625.1,598.3 L1629.0,589.1 L1632.7,578.7 L1636.1,567.7 L1639.3,555.1 L1644.3,532.6 L1649.6,505.1 L1653.4,482.4 L1656.3,461.1 L1658.0,445.2 L1662.2,398.9 L1668.9,333.2 L1680.2,201.2 L1684.9,151.9 L1687.1,132.1 L1689.1,117.7 L1691.0,107.9 L1692.0,104.6 L1693.0,102.3 L1693.9,101.4 L1694.2,101.5 L1694.8,102.2 L1695.7,104.4 L1696.6,107.8 L1698.5,119.1 L1700.8,137.5 L1704.7,172.3 L1706.9,194.7 L1711.4,254.0 L1720.0,353.1 L1721.8,369.0 L1723.9,385.4 L1726.4,402.2 L1729.3,419.0 L1733.5,440.6 L1737.8,459.6 L1741.8,474.0 L1743.8,480.2 L1745.8,485.3 L1748.0,490.3 L1750.1,494.3 L1752.3,497.6 L1754.8,500.8 L1757.4,503.1 L1759.9,504.7 L1762.7,505.8 L1765.2,506.0 L1768.2,505.5 L1770.9,504.3 L1773.8,502.3 L1776.7,499.6 L1779.6,496.1 L1782.4,492.0 L1785.1,487.3 L1788.0,481.4 L1792.6,469.9 L1797.5,455.3 L1807.7,421.9 L1815.3,395.0 L1818.7,381.9 L1821.5,370.2 L1823.9,358.5 L1826.3,345.7 L1836.4,283.0 L1843.2,232.9 L1846.2,213.6 L1850.1,191.5 L1859.5,142.9 L1863.6,124.3 L1865.5,117.1 L1867.3,111.4 L1869.2,106.8 L1871.1,103.3 L1872.7,101.6 L1873.6,101.1 L1874.4,101.0 L1875.2,101.4 L1875.9,102.1 L1877.2,104.1 L1878.6,107.3 L1880.1,112.1 L1883.3,124.7 L1886.8,142.8 L1891.8,172.9 L1901.7,243.2 L1912.2,308.9 L1919.3,358.4 L1921.6,373.2 L1924.6,390.4 L1928.5,410.0 L1933.8,434.5 L1940.2,463.3 L1945.6,485.6 L1950.8,505.0 L1956.8,524.6 L1963.1,543.0 L1968.8,557.9 L1974.7,571.2 L1981.0,583.1 L1987.6,593.8 L1991.6,599.5 L1995.9,605.0 L2000.4,610.4 L2004.8,615.2 L2009.8,620.1 L2014.6,624.5 L2019.6,628.6 L2025.2,632.8 L2031.0,636.7 L2037.0,640.4 L2043.1,643.8 L2049.4,647.0 L2055.7,649.9 L2062.7,652.8 L2069.7,655.4 L2077.3,657.9 L2085.4,660.3 L2094.1,662.6 L2112.6,666.7 L2134.8,670.6 L2158.6,673.8 L2180.4,676.1 L2204.4,677.8 L2231.8,679.2 L2260.8,680.0" fill="none" stroke="#0a0ab8" stroke-width="4.6" stroke-linejoin="round"/>
<path d="M2052.5,651.0 L2056.1,652.8 L2059.9,654.4 L2071.2,658.7 L2078.9,661.2 L2090.5,664.5 L2102.3,667.4 L2114.1,669.8 L2125.9,672.0 L2137.8,674.0 L2153.7,676.2 L2165.7,677.6 L2177.7,678.8 L2193.7,680.1 L2209.7,681.1 L2225.7,681.8 L2241.7,682.4 L2260.8,682.9 L2260.9,677.1 L2241.9,676.6 L2226.0,676.0 L2210.0,675.3 L2194.1,674.3 L2178.2,673.0 L2166.3,671.8 L2154.5,670.4 L2142.6,668.8 L2126.9,666.4 L2115.1,664.4 L2103.5,662.0 L2091.9,659.3 L2080.4,656.2 L2072.9,653.8 L2065.4,651.1 L2054.4,646.8Z" fill="#0a0ab8"/>
<path d="M1416.7,694.3 L1422.1,689.1 L1427.1,683.5 L1431.9,677.1 L1436.3,670.4 L1440.4,662.9 L1444.0,655.2 L1447.4,646.9 L1450.7,637.5 L1453.2,629.4 L1455.5,620.7 L1457.6,611.4 L1459.7,601.2 L1463.7,578.5 L1472.6,522.3 L1475.2,502.4 L1477.3,480.0 L1483.5,393.7 L1489.3,294.9 L1492.7,219.5 L1495.5,163.5 L1496.9,140.1 L1498.4,122.1 L1499.9,108.7 L1500.6,104.3 L1501.4,100.8 L1502.2,99.0 L1502.7,98.9 L1503.2,100.3 L1503.7,103.3 L1504.7,114.7 L1508.3,179.1 L1510.8,236.6 L1513.5,289.5 L1515.8,358.5 L1517.5,391.9 L1520.1,429.3 L1523.0,465.7 L1525.1,489.1 L1529.7,534.4 L1531.6,550.8 L1533.7,563.6 L1536.5,575.8 L1539.7,586.4 L1541.4,591.1 L1543.4,595.8 L1545.4,599.9 L1547.7,603.8 L1550.0,607.1 L1552.3,609.8 L1554.8,612.3 L1557.2,614.2 L1559.3,615.5 L1561.6,616.6 L1564.0,617.3 L1566.5,617.7 L1569.0,617.8 L1571.9,617.5 L1574.4,617.0 L1577.2,616.0 L1579.9,614.8 L1582.5,613.3 L1585.4,611.4 L1588.1,609.3 L1593.9,603.8 L1599.4,597.4 L1605.1,589.8 L1610.4,581.3 L1615.4,572.1 L1620.0,562.6 L1624.2,552.4 L1628.3,541.1 L1632.2,528.7 L1636.0,515.2 L1641.4,492.8 L1646.1,470.3 L1649.7,449.1 L1654.0,419.4 L1660.4,372.3 L1664.6,338.1 L1673.4,254.1 L1679.5,192.4 L1684.7,147.6 L1687.5,126.3 L1689.9,111.5 L1691.0,106.2 L1692.2,101.8 L1693.2,99.0 L1693.7,98.3 L1694.0,98.2 L1694.7,99.9 L1695.6,103.3 L1697.4,114.6 L1700.1,135.9 L1704.5,175.2 L1707.1,203.1 L1710.9,253.4 L1715.9,305.7 L1718.8,339.6 L1720.5,355.0 L1722.7,369.9 L1725.6,386.1 L1729.3,403.2 L1733.5,419.7 L1737.6,433.6 L1741.3,443.9 L1745.1,452.1 L1747.1,455.6 L1749.0,458.4 L1750.9,460.8 L1753.0,462.9 L1755.8,464.9 L1758.5,466.1 L1761.4,466.6 L1764.3,466.3 L1767.5,465.1 L1770.5,463.2 L1773.4,460.6 L1776.7,456.8 L1779.6,452.8 L1782.7,447.7 L1785.8,442.0 L1789.0,435.3 L1792.6,427.0 L1796.1,418.2 L1802.8,399.4 L1807.8,383.1 L1812.4,366.2 L1816.6,348.7 L1821.3,327.2 L1826.5,301.2 L1830.3,280.5 L1832.9,264.8 L1838.4,229.7 L1842.4,207.0 L1849.3,172.2 L1856.5,139.0 L1858.8,129.7 L1861.1,121.5 L1863.2,114.9 L1865.3,109.3 L1867.5,104.7 L1869.4,101.8 L1871.2,100.2 L1872.1,99.8 L1873.1,99.7 L1874.4,100.5 L1875.9,103.0 L1877.3,106.2 L1878.8,111.0 L1882.0,124.1 L1885.7,143.3 L1888.5,159.5 L1891.0,175.3 L1901.1,246.6 L1903.6,262.4 L1909.4,294.9 L1912.6,314.1 L1920.1,365.1 L1923.2,382.3 L1927.4,400.9 L1933.2,422.7 L1940.3,446.1 L1949.3,473.1 L1959.0,500.0 L1964.9,514.8 L1970.2,526.1 L1973.1,531.4 L1975.9,536.1 L1978.9,540.7 L1982.1,545.1 L1985.9,549.8 L1990.2,554.7 L1994.7,559.3 L1999.8,564.0 L2005.1,568.5 L2010.6,572.8 L2016.3,576.8 L2022.2,580.6 L2028.2,584.1 L2033.9,587.2 L2040.2,590.2 L2046.7,592.9 L2053.2,595.4 L2059.9,597.6 L2066.6,599.5 L2073.9,601.4 L2088.2,604.2 L2104.5,606.4 L2124.0,608.2 L2146.4,609.5 L2172.4,610.3 L2202.9,610.6 L2233.9,610.3 L2260.8,609.5" fill="none" stroke="#00e034" stroke-width="5.4" stroke-linejoin="round"/>
<path d="M1991.4,559.8 L1994.2,562.7 L2000.1,568.2 L2003.2,570.9 L2009.5,576.0 L2019.5,583.0 L2026.4,587.3 L2030.0,589.3 L2033.6,591.2 L2041.0,594.8 L2044.7,596.4 L2052.4,599.4 L2064.0,603.2 L2072.0,605.4 L2079.9,607.2 L2087.9,608.7 L2096.0,610.0 L2112.0,612.0 L2128.1,613.5 L2148.2,614.6 L2172.3,615.4 L2204.4,615.7 L2236.5,615.5 L2261.1,614.8 L2260.6,604.3 L2236.3,605.1 L2208.3,605.4 L2180.4,605.3 L2156.6,604.8 L2136.7,604.0 L2113.0,602.4 L2097.2,600.8 L2089.4,599.8 L2081.6,598.5 L2074.0,596.9 L2066.3,595.0 L2055.1,591.7 L2044.1,587.6 L2033.4,582.8 L2023.1,577.2 L2013.3,570.8 L2004.0,563.7 L1995.2,555.9Z" fill="#00e034"/>
<path d="M1416.7,690.7 L1421.2,684.7 L1425.4,678.5 L1429.5,671.6 L1433.2,664.5 L1436.8,656.8 L1440.2,648.4 L1443.4,639.5 L1446.2,630.5 L1450.5,614.5 L1454.5,595.5 L1464.8,538.0 L1468.2,516.8 L1471.2,492.9 L1474.1,463.6 L1478.4,411.3 L1482.8,352.9 L1486.4,309.0 L1488.1,282.1 L1490.5,233.7 L1493.0,194.7 L1495.2,154.8 L1496.5,137.3 L1498.0,121.9 L1499.6,110.0 L1500.4,105.6 L1501.3,102.2 L1502.0,100.3 L1502.8,99.4 L1503.3,99.8 L1503.8,102.3 L1504.8,112.8 L1508.3,181.2 L1510.5,235.7 L1513.3,291.1 L1514.0,312.6 L1515.1,357.6 L1516.4,386.0 L1517.8,407.0 L1522.4,466.3 L1529.0,537.4 L1530.5,550.4 L1532.2,560.7 L1534.4,570.5 L1537.1,579.2 L1540.2,586.7 L1543.5,592.4 L1545.3,594.9 L1547.4,597.1 L1549.3,598.8 L1551.4,600.3 L1553.8,601.3 L1555.8,601.9 L1557.8,602.2 L1560.3,602.1 L1562.3,601.8 L1564.7,601.1 L1567.0,600.1 L1569.7,598.6 L1574.5,595.1 L1579.8,589.9 L1585.3,583.5 L1591.2,575.5 L1596.8,566.7 L1602.5,556.7 L1607.8,546.5 L1612.8,535.6 L1617.7,523.5 L1622.4,510.8 L1626.8,497.5 L1630.8,484.1 L1633.7,473.0 L1636.5,461.3 L1642.0,434.8 L1650.6,388.6 L1659.1,337.3 L1663.6,308.1 L1667.5,278.9 L1669.9,258.5 L1676.5,198.4 L1679.8,170.6 L1682.8,148.3 L1686.1,126.5 L1689.2,108.8 L1692.0,96.1 L1693.1,92.3 L1694.2,89.3 L1695.2,93.9 L1696.3,102.3 L1704.3,176.4 L1706.5,200.3 L1709.2,238.2 L1710.5,254.2 L1717.9,328.3 L1719.4,340.7 L1721.0,352.1 L1723.5,366.4 L1726.3,379.6 L1729.4,391.7 L1732.7,402.3 L1736.1,411.1 L1739.6,418.3 L1741.5,421.3 L1743.2,423.7 L1745.2,426.0 L1747.1,427.6 L1749.6,429.3 L1751.9,430.1 L1754.3,430.5 L1757.3,430.1 L1760.0,429.0 L1762.5,427.5 L1765.2,425.2 L1768.2,422.0 L1770.9,418.4 L1774.0,413.8 L1776.7,409.1 L1779.7,403.4 L1786.2,389.3 L1792.9,372.6 L1798.2,358.1 L1803.0,343.3 L1807.6,327.4 L1812.5,308.6 L1820.6,274.5 L1833.8,213.4 L1840.1,185.1 L1847.4,154.5 L1852.5,135.1 L1855.2,126.5 L1857.8,118.9 L1860.4,112.4 L1862.8,107.5 L1865.5,103.2 L1867.8,100.5 L1868.9,99.5 L1870.2,98.7 L1871.2,98.4 L1872.3,98.4 L1873.5,99.3 L1874.6,101.0 L1875.9,103.8 L1877.2,107.6 L1879.9,118.2 L1883.0,133.4 L1886.2,151.6 L1889.1,169.4 L1896.9,225.4 L1901.2,252.5 L1910.9,304.6 L1920.8,363.3 L1924.4,380.4 L1928.6,397.9 L1933.5,416.2 L1939.0,433.9 L1944.8,450.4 L1950.7,464.8 L1956.5,477.0 L1962.6,487.9 L1965.9,492.9 L1969.3,497.9 L1972.7,502.2 L1976.3,506.4 L1982.9,513.2 L1986.7,516.5 L1990.2,519.3 L1994.3,522.2 L1998.1,524.6 L2006.1,528.8 L2010.2,530.5 L2014.9,532.2 L2024.0,534.8 L2034.3,536.8 L2045.7,538.1 L2061.7,539.1 L2082.2,539.6 L2109.7,539.6 L2136.2,539.1 L2165.2,538.0 L2200.1,536.2 L2232.6,534.1 L2261.0,531.9" fill="none" stroke="#ff08f0" stroke-width="5.8" stroke-linejoin="round"/>
<path d="M1960.7,490.3 L1962.8,493.8 L1967.4,500.6 L1972.4,507.1 L1975.1,510.3 L1980.8,516.3 L1983.8,519.1 L1990.3,524.4 L1993.7,526.8 L2000.9,531.2 L2004.7,533.1 L2012.4,536.4 L2016.3,537.8 L2024.4,540.2 L2032.5,542.0 L2036.6,542.7 L2044.7,543.6 L2052.9,544.2 L2069.1,544.9 L2097.2,545.2 L2129.3,544.9 L2157.4,544.0 L2197.5,542.0 L2233.5,539.8 L2261.5,537.6 L2260.5,526.2 L2228.7,528.6 L2192.8,530.9 L2153.0,532.9 L2125.1,533.8 L2093.2,534.1 L2065.4,533.7 L2049.7,532.9 L2041.9,532.2 L2034.2,531.3 L2026.6,530.1 L2022.9,529.3 L2015.5,527.4 L2011.9,526.2 L2004.9,523.3 L2001.5,521.6 L1994.9,517.8 L1988.7,513.3 L1985.8,510.8 L1980.2,505.5 L1977.5,502.7 L1972.5,496.7 L1970.1,493.6 L1965.6,487.2Z" fill="#ff08f0"/>
</g>
<path d="M2010.5,102.1 V526.7 H2257.3 V102.1" fill="white" stroke="#b0b0b0" stroke-width="2.5"/>
<text x="2094.5" y="159.2" class="b">TE</text>
<line x1="2012.0" y1="216.0" x2="2095.5" y2="216.0" stroke="#000000" stroke-width="4"/>
<text x="2108.0" y="229.0" class="b">θ=0°</text>
<line x1="2012.0" y1="287.5" x2="2095.5" y2="287.5" stroke="#dc1c20" stroke-width="4"/>
<text x="2108.0" y="300.5" class="b">θ=10°</text>
<line x1="2012.0" y1="357.6" x2="2095.5" y2="357.6" stroke="#0a0ab8" stroke-width="4"/>
<text x="2108.0" y="370.6" class="b">θ=20°</text>
<line x1="2012.0" y1="428.8" x2="2095.5" y2="428.8" stroke="#00e034" stroke-width="4"/>
<text x="2108.0" y="441.8" class="b">θ=30°</text>
<line x1="2012.0" y1="498.5" x2="2095.5" y2="498.5" stroke="#ff08f0" stroke-width="4"/>
<text x="2108.0" y="511.5" class="b">θ=40°</text>
<text x="1394.5" y="798.0" text-anchor="end" class="b">0.0</text>
<text x="1394.5" y="661.9" text-anchor="end" class="b">0.2</text>
<text x="1394.5" y="525.8" text-anchor="end" class="b">0.4</text>
<text x="1394.5" y="389.6" text-anchor="end" class="b">0.6</text>
<text x="1394.5" y="253.5" text-anchor="end" class="b">0.8</text>
<text x="1394.5" y="117.4" text-anchor="end" class="b">1.0</text>
<text x="1457.7" y="849.0" text-anchor="middle" class="b">1000</text>
<text x="1658.8" y="849.0" text-anchor="middle" class="b">1500</text>
<text x="1860.0" y="849.0" text-anchor="middle" class="b">2000</text>
<text x="2061.1" y="849.0" text-anchor="middle" class="b">2500</text>
<text x="2262.2" y="849.0" text-anchor="middle" class="b">3000</text>
<text transform="translate(1293.0,411.0) rotate(-90)" text-anchor="middle" class="b">Absorption</text>
<text x="1809.5" y="912.8" text-anchor="middle" class="b"><tspan font-weight="normal">λ(</tspan>nm<tspan font-weight="normal">)</tspan></text>
<text x="1530.5" y="178.0" class="r">λ1</text>
<text x="1717.5" y="181.0" class="r">λ2</text>
<text x="1905.5" y="178.5" class="r">λ3</text>
<text x="48" y="123.5" class="p">(a)</text>
<text x="1199.5" y="122" class="p">(b)</text>
</svg></body></html>
